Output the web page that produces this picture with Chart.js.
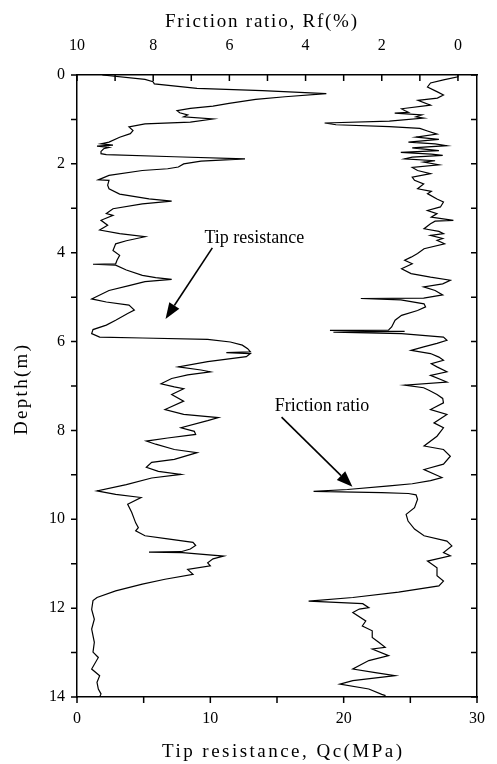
<!DOCTYPE html>
<html><head><meta charset="utf-8">
<script src="https://cdn.jsdelivr.net/npm/chart.js@4.4.1/dist/chart.umd.min.js"></script>
<style>html,body{margin:0;padding:0;background:#fff;}canvas{display:block;}</style>
</head><body>
<canvas id="c" width="497" height="764" style="width:497px;height:764px"></canvas>
<script>
// ---- data ----
const tipDepth = [0.00,0.10,0.15,0.20,0.30,0.35,0.42,0.49,0.55,0.64,0.70,0.75,0.80,0.85,0.90,0.94,0.99,1.06,1.10,1.17,1.25,1.32,1.40,1.51,1.55,1.58,1.60,1.63,1.66,1.72,1.77,1.79,1.84,1.89,1.94,2.00,2.07,2.11,2.15,2.26,2.36,2.37,2.48,2.56,2.68,2.79,2.84,2.90,3.01,3.12,3.16,3.27,3.38,3.49,3.57,3.64,3.73,3.80,3.95,4.06,4.17,4.25,4.26,4.28,4.39,4.51,4.56,4.60,4.65,4.74,4.85,5.04,5.11,5.18,5.29,5.37,5.52,5.63,5.73,5.82,5.90,5.92,5.95,6.01,6.08,6.16,6.23,6.25,6.27,6.34,6.45,6.57,6.64,6.68,6.75,6.83,6.95,7.02,7.06,7.19,7.34,7.53,7.64,7.71,7.78,7.94,8.02,8.09,8.17,8.24,8.31,8.43,8.50,8.65,8.72,8.83,8.92,8.99,9.07,9.22,9.36,9.44,9.51,9.66,9.84,10.08,10.19,10.26,10.37,10.44,10.52,10.59,10.67,10.73,10.74,10.75,10.83,10.89,10.98,11.05,11.13,11.24,11.35,11.46,11.61,11.76,11.83,12.03,12.25,12.47,12.77,12.99,13.11,13.37,13.52,13.67,13.82,13.93,14.00];
const tipQc = [1.9,5.1,5.7,5.8,9.0,13.9,18.7,15.6,13.4,11.4,10.2,8.5,7.5,7.7,8.3,8.0,10.2,8.5,5.1,3.9,4.2,4.0,3.2,2.4,1.8,2.7,1.5,2.4,2.0,1.8,1.8,2.2,7.3,12.6,9.3,8.0,7.6,6.8,4.9,2.4,1.6,2.4,2.3,2.4,3.2,5.4,7.1,4.9,2.7,2.2,2.7,1.8,2.3,1.7,3.2,5.1,3.7,2.9,2.7,3.2,3.0,2.9,1.2,2.9,3.7,4.9,5.9,7.1,5.1,3.9,2.4,1.1,2.2,3.9,4.3,3.8,2.9,2.2,1.2,1.1,1.7,4.9,9.8,11.5,12.4,12.8,13.0,11.2,13.0,12.7,9.8,7.6,9.3,10.0,8.3,7.1,6.3,7.3,8.0,7.1,8.0,6.6,8.0,10.6,9.8,7.8,8.8,8.9,6.8,5.2,5.9,7.3,9.0,7.3,5.6,5.2,6.1,7.8,5.6,3.7,1.5,2.9,4.8,3.8,4.1,4.4,4.6,4.4,5.1,6.8,8.7,8.9,8.5,7.8,5.4,7.9,11.0,10.2,9.8,10.0,8.3,8.7,6.6,4.9,2.9,1.5,1.2,1.1,1.3,1.1,1.3,1.2,1.6,1.1,1.7,1.5,1.6,1.8,1.7];

const frDepth = [0.00,0.04,0.11,0.18,0.27,0.38,0.45,0.52,0.57,0.68,0.76,0.80,0.84,0.86,0.90,0.94,0.97,1.04,1.08,1.12,1.16,1.20,1.26,1.33,1.40,1.45,1.51,1.55,1.59,1.64,1.70,1.74,1.78,1.81,1.85,1.89,1.93,1.96,2.02,2.08,2.15,2.22,2.30,2.37,2.45,2.56,2.62,2.67,2.79,2.86,2.97,3.05,3.12,3.20,3.27,3.29,3.35,3.46,3.52,3.57,3.61,3.68,3.72,3.80,3.91,4.02,4.10,4.17,4.25,4.36,4.47,4.55,4.62,4.70,4.77,4.85,4.95,5.02,5.03,5.06,5.15,5.22,5.30,5.41,5.52,5.67,5.74,5.75,5.77,5.79,5.82,5.90,5.97,6.04,6.12,6.20,6.27,6.35,6.42,6.50,6.57,6.68,6.76,6.91,6.98,7.04,7.10,7.19,7.28,7.38,7.53,7.64,7.83,7.94,8.13,8.35,8.43,8.58,8.76,8.88,9.06,9.13,9.20,9.25,9.33,9.37,9.40,9.42,9.45,9.55,9.74,9.89,10.04,10.22,10.37,10.49,10.60,10.75,10.82,10.94,11.09,11.27,11.39,11.50,11.64,11.76,11.84,11.90,11.99,12.02,12.10,12.29,12.40,12.51,12.66,12.77,12.88,12.92,13.07,13.18,13.37,13.45,13.52,13.63,13.71,13.82,13.94,13.97];
const frRatio = [0.0,0.0,0.38,0.72,0.8,0.54,0.38,0.54,1.05,0.72,1.48,1.4,1.3,1.66,0.95,1.1,0.9,1.8,3.5,3.2,1.8,1.0,0.8,0.55,1.1,0.5,1.3,0.6,0.3,1.2,0.5,1.5,0.7,0.4,1.2,1.4,0.6,0.9,0.5,1.2,1.06,0.72,1.2,1.14,0.9,1.06,0.7,0.8,0.55,0.38,0.46,0.8,0.55,0.7,0.12,0.6,0.72,0.89,0.5,0.38,0.72,0.4,0.55,0.35,0.89,1.06,1.23,1.4,1.2,1.48,1.23,0.72,0.2,0.4,0.9,0.6,0.4,0.9,2.55,1.5,0.89,0.85,1.06,1.48,1.65,1.74,1.82,3.36,1.4,3.27,1.48,0.38,0.29,0.55,0.9,1.23,0.72,0.5,0.38,0.7,0.55,0.29,0.72,0.29,1.4,0.9,0.75,0.55,0.4,0.38,0.72,0.29,0.63,0.38,0.55,0.89,0.38,0.2,0.38,0.89,0.42,0.72,1.2,1.8,2.9,3.79,2.0,1.3,1.1,1.06,1.14,1.36,1.31,1.14,0.89,0.29,0.16,0.38,0.2,0.8,0.55,0.55,0.38,0.5,1.56,2.76,3.92,2.5,2.34,2.59,2.76,2.42,2.51,2.25,2.25,2.08,1.91,2.25,1.82,2.34,2.76,2.17,1.65,2.76,3.1,2.34,2.0,1.9];

const qcTicks = [0,10,20,30];
const qcTickMarks = [0,5,10,15,20,25,30];
const rfTicks = [10,8,6,4,2,0];
const rfTickMarks = [10,9,8,7,6,5,4,3,2,1,0];
const depthTicks = [0,2,4,6,8,10,12,14];
const depthTickMarks = [0,1,2,3,4,5,6,7,8,9,10,11,12,13,14];

const titleTop = 'Friction ratio, Rf(%)';
const titleBottom = 'Tip resistance, Qc(MPa)';
const titleLeft = 'Depth(m)';
const noteTip = 'Tip resistance';
const noteFr = 'Friction ratio';
// annotation anchors in data units
const noteTipAt = {qc: 9.56, d: 3.78};
const arrowTip = {from: {qc: 10.15, d: 3.89}, to: {qc: 6.64, d: 5.49}};
const noteFrAt = {rf: 4.81, d: 7.56};
const arrowFr = {from: {rf: 4.63, d: 7.70}, to: {rf: 2.77, d: 9.27}};

const FONT = "'Liberation Serif', 'Times New Roman', serif";

const tipData = tipDepth.map((d, i) => ({x: tipQc[i], y: d}));
const frData = frDepth.map((d, i) => ({x: frRatio[i], y: d}));

function spacedText(ctx, text, cx, cy, targetW, font, rot) {
  ctx.save();
  ctx.font = font;
  const hasLS = 'letterSpacing' in ctx;
  if (hasLS) ctx.letterSpacing = '0px';
  const w = ctx.measureText(text).width;
  let sp = hasLS ? Math.max(0, (targetW - w) / (text.length - 1)) : 0;
  if (hasLS) ctx.letterSpacing = sp + 'px';
  const w2 = w + sp * (text.length - 1);
  ctx.translate(cx, cy);
  if (rot) ctx.rotate(rot);
  ctx.fillStyle = '#000';
  ctx.textAlign = 'left';
  ctx.textBaseline = 'middle';
  ctx.fillText(text, -w2 / 2, 0);
  ctx.restore();
}

function arrow(ctx, x1, y1, x2, y2, headLen, headW) {
  const ang = Math.atan2(y2 - y1, x2 - x1);
  const bx = x2 - headLen * Math.cos(ang), by = y2 - headLen * Math.sin(ang);
  ctx.beginPath();
  ctx.moveTo(x1, y1); ctx.lineTo(bx, by); ctx.stroke();
  const nx = -Math.sin(ang), ny = Math.cos(ang);
  ctx.beginPath();
  ctx.moveTo(x2, y2);
  ctx.lineTo(bx + nx * headW / 2, by + ny * headW / 2);
  ctx.lineTo(bx - nx * headW / 2, by - ny * headW / 2);
  ctx.closePath(); ctx.fill();
}

const decor = {
  id: 'decor',
  afterDraw(chart) {
    const {ctx, chartArea: a} = chart;
    const {x, x2, y} = chart.scales;
    ctx.save();
    ctx.strokeStyle = '#000'; ctx.fillStyle = '#000'; ctx.lineWidth = 1.5;
    ctx.beginPath();
    qcTickMarks.forEach(v => { const p = x.getPixelForValue(v); ctx.moveTo(p, a.bottom); ctx.lineTo(p, a.bottom + 6); });
    rfTickMarks.forEach(v => { const p = x2.getPixelForValue(v); ctx.moveTo(p, a.top); ctx.lineTo(p, a.top + 6); });
    depthTickMarks.forEach(v => {
      const p = y.getPixelForValue(v);
      ctx.moveTo(a.left, p); ctx.lineTo(a.left - 6, p);
      ctx.moveTo(a.right, p); ctx.lineTo(a.right - 6, p);
    });
    ctx.stroke();

    spacedText(ctx, titleTop, 261, 22, 192, '19px ' + FONT, 0);
    spacedText(ctx, titleBottom, 282, 752, 240, '19px ' + FONT, 0);
    spacedText(ctx, titleLeft, 22, 390, 90, '19px ' + FONT, -Math.PI / 2);

    ctx.font = '18px ' + FONT;
    ctx.textAlign = 'left'; ctx.textBaseline = 'alphabetic';
    ctx.fillText(noteTip, x.getPixelForValue(noteTipAt.qc), y.getPixelForValue(noteTipAt.d));
    ctx.fillText(noteFr, x2.getPixelForValue(noteFrAt.rf), y.getPixelForValue(noteFrAt.d));

    ctx.lineWidth = 1.6;
    arrow(ctx, x.getPixelForValue(arrowTip.from.qc), y.getPixelForValue(arrowTip.from.d),
               x.getPixelForValue(arrowTip.to.qc), y.getPixelForValue(arrowTip.to.d), 16, 12);
    arrow(ctx, x2.getPixelForValue(arrowFr.from.rf), y.getPixelForValue(arrowFr.from.d),
               x2.getPixelForValue(arrowFr.to.rf), y.getPixelForValue(arrowFr.to.d), 16, 12);
    ctx.restore();
  }
};

const axisCommon = {
  grid: {display: true, drawOnChartArea: false, drawTicks: false},
  border: {display: true, color: '#000', width: 1.5},
};

new Chart(document.getElementById('c'), {
  type: 'scatter',
  data: {
    datasets: [
      {label: 'Tip resistance', data: tipData, xAxisID: 'x', yAxisID: 'y', showLine: true,
       borderColor: '#000', borderWidth: 1.2, pointRadius: 0, tension: 0, fill: false},
      {label: 'Friction ratio', data: frData, xAxisID: 'x2', yAxisID: 'y', showLine: true,
       borderColor: '#000', borderWidth: 1.2, pointRadius: 0, tension: 0, fill: false}
    ]
  },
  options: {
    responsive: false, animation: false, devicePixelRatio: 1, events: [],
    layout: {padding: 0},
    plugins: {legend: {display: false}, tooltip: {enabled: false}, title: {display: false}},
    scales: {
      x: Object.assign({}, axisCommon, {
        type: 'linear', position: 'bottom', min: 0, max: 30,
        afterBuildTicks: s => { s.ticks = qcTicks.map(v => ({value: v})); },
        ticks: {font: {family: FONT, size: 16}, color: '#000', padding: 12, maxRotation: 0, autoSkip: false},
        afterFit: s => { s.height = 67; }
      }),
      x2: Object.assign({}, axisCommon, {
        type: 'linear', position: 'top', min: -0.5, max: 10, reverse: true,
        afterBuildTicks: s => { s.ticks = rfTicks.map(v => ({value: v})); },
        ticks: {font: {family: FONT, size: 16}, color: '#000', padding: 20, maxRotation: 0, autoSkip: false},
        afterFit: s => { s.height = 75; }
      }),
      y: Object.assign({}, axisCommon, {
        type: 'linear', position: 'left', min: 0, max: 14, reverse: true,
        afterBuildTicks: s => { s.ticks = depthTicks.map(v => ({value: v})); },
        ticks: {font: {family: FONT, size: 16}, color: '#000', padding: 12, autoSkip: false},
        afterFit: s => { s.width = 77; }
      }),
      y2: Object.assign({}, axisCommon, {
        type: 'linear', position: 'right', min: 0, max: 14, reverse: true,
        ticks: {display: false},
        afterFit: s => { s.width = 9; }
      })
    }
  },
  plugins: [decor]
});
</script>
</body></html>
